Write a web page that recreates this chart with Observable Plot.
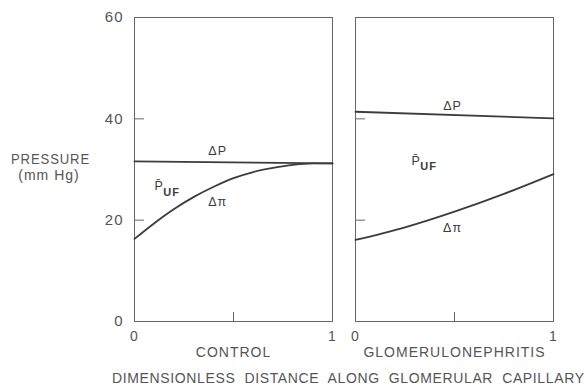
<!DOCTYPE html>
<html><head><meta charset="utf-8">
<script src="https://cdn.jsdelivr.net/npm/d3@7"></script>
<script src="https://cdn.jsdelivr.net/npm/@observablehq/plot@0.6"></script>
<style>
body{margin:0;background:#fff}
#chart svg{display:block}
#chart text{letter-spacing:1px}
</style></head>
<body><div id="chart"></div>
<script>
// ---- data ----
const panels = ["CONTROL", "GLOMERULONEPHRITIS"];

const controlX     = [0, 0.1, 0.2, 0.3, 0.4, 0.5, 0.6, 0.7, 0.8, 0.9, 1];
const controlPi    = [16.3, 19.4, 22.2, 24.6, 26.6, 28.3, 29.5, 30.3, 30.9, 31.2, 31.2];
const controlPX    = [0, 1];
const controlP     = [31.6, 31.2];

const gnX          = [0, 0.25, 0.5, 0.75, 1];
const gnPi         = [16.1, 18.6, 21.7, 25.2, 29.1];
const gnPX         = [0, 1];
const gnP          = [41.4, 40.1];

const yTicks       = [0, 20, 40, 60];
const yInnerTicks  = [20, 40];
const xTickLabels  = [0, 1];
const xMidTicks    = [0.5];

const labelPanel   = ["CONTROL", "CONTROL", "CONTROL", "GLOMERULONEPHRITIS", "GLOMERULONEPHRITIS", "GLOMERULONEPHRITIS"];
const labelText    = ["ΔP", "P̄", "Δπ", "ΔP", "P̄", "Δπ"];
const labelX       = [0.42, 0.125, 0.42, 0.49, 0.307, 0.49];
const labelY       = [33.7, 26.7, 23.5, 42.6, 31.7, 18.5];
const subText      = "UF";

const yTitle       = ["PRESSURE", "(mm Hg)"];
const xTitle       = "DIMENSIONLESS  DISTANCE  ALONG  GLOMERULAR  CAPILLARY";

// ---- build tables ----
const lines = [];
controlX.forEach((x, i) => lines.push({panel: panels[0], series: "pi", x, y: controlPi[i]}));
controlPX.forEach((x, i) => lines.push({panel: panels[0], series: "P", x, y: controlP[i]}));
gnX.forEach((x, i) => lines.push({panel: panels[1], series: "pi", x, y: gnPi[i]}));
gnPX.forEach((x, i) => lines.push({panel: panels[1], series: "P", x, y: gnP[i]}));

const labels = labelText.map((t, i) => ({panel: labelPanel[i], text: t, x: labelX[i], y: labelY[i]}));
const subs = labels.filter(d => d.text === "P̄");

// ---- layout ----
const W = 588, H = 385, mL = 133, mR = 34, mT = 17, mB = 64;
const pad = 0.1036;
const step = (W - mL - mR) / (2 - pad);
const panelW = step * (1 - pad);
const panelH = H - mT - mB;
const tickFrac = 10 / panelW;

const ink = "#3c3c3c";
const txt = "#555";

const chart = Plot.plot({
  width: W, height: H,
  marginLeft: mL, marginRight: mR, marginTop: mT, marginBottom: mB,
  style: {fontFamily: "'Liberation Sans', Arial, sans-serif", color: txt, background: "#fff"},
  x: {domain: [0, 1]},
  y: {domain: [0, 60]},
  fx: {domain: panels, paddingInner: pad, paddingOuter: 0},
  marks: [
    Plot.frame({stroke: "#666", strokeWidth: 1}),
    Plot.ruleY(yInnerTicks, {y: d => d, x1: () => 0, x2: () => tickFrac, stroke: "#666", strokeWidth: 1}),
    Plot.tickX(xMidTicks, {x: d => d, insetTop: panelH - 9, stroke: "#666", strokeWidth: 1}),
    Plot.line(lines, {x: "x", y: "y", z: "series", fx: "panel", curve: "monotone-x", stroke: ink, strokeWidth: 1.8}),
    Plot.text(labels, {x: "x", y: "y", fx: "panel", text: "text", fill: ink, fontSize: 12.5}),
    Plot.text(subs, {x: "x", y: "y", fx: "panel", text: () => subText, fill: ink, fontSize: 11, fontWeight: "bold", textAnchor: "start", dx: 4, dy: 6}),
    Plot.axisY({ticks: yTicks, tickSize: 0, tickPadding: 11, fontSize: 15, label: null}),
    Plot.axisX({ticks: xTickLabels, tickSize: 0, tickPadding: 10, fontSize: 14, label: null, tickFormat: d => String(d)}),
    Plot.axisFx({anchor: "bottom", tickSize: 0, tickPadding: 26, fontSize: 14, label: null})
  ]
});

document.getElementById("chart").appendChild(chart);

// axis titles outside the panels
const svg = d3.select(chart);
const g = svg.append("g").attr("fill", txt).attr("font-family", "'Liberation Sans', Arial, sans-serif");
g.append("text").attr("x", 50.5).attr("y", 164).attr("text-anchor", "middle")
  .attr("font-size", 15).attr("textLength", 79).attr("lengthAdjust", "spacingAndGlyphs").text(yTitle[0]);
g.append("text").attr("x", 49).attr("y", 180).attr("text-anchor", "middle")
  .attr("font-size", 14).text(yTitle[1]);
g.append("text").attr("x", 112).attr("y", 383).attr("text-anchor", "start")
  .attr("font-size", 14).attr("textLength", 473).attr("lengthAdjust", "spacing").text(xTitle);
</script>
</body></html>
